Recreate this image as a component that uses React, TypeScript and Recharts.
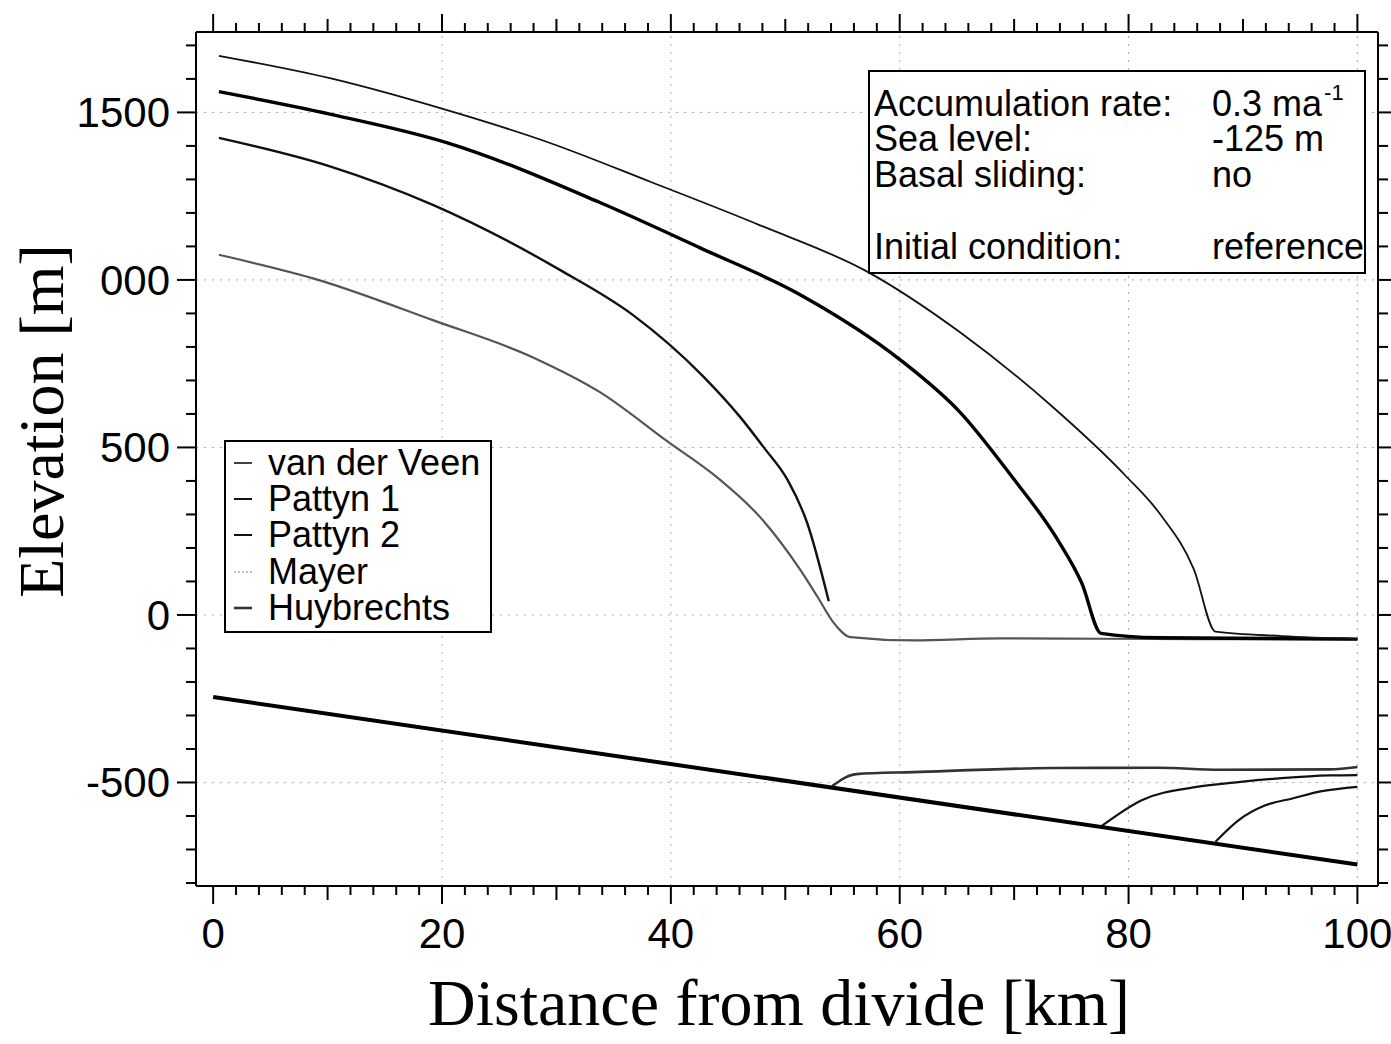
import { LineChart, Line, XAxis, YAxis, ReferenceLine } from 'recharts'

// ice surface profiles, km from divide / elevation (m)
const vanDerVeenKm = [0.5, 10.2, 19.7, 29.5, 38.2, 47.8, 57.2, 65.3, 73.3, 79.7, 82.8, 85.7, 87.6, 93.4, 100]
const vanDerVeenElev = [1669, 1602, 1514, 1408, 1293, 1163, 1024, 843, 623, 417, 299, 137, -50, -63, -72]

const huybrechtsKm = [0.5, 10.2, 20.4, 33.8, 42.6, 51.3, 60.1, 65.3, 69.8, 73.7, 75.9, 77.6, 82.6, 100]
const huybrechtsElev = [1562, 1495, 1410, 1231, 1095, 956, 760, 604, 413, 230, 96, -55, -68, -72]

const pattyn1Km = [0.5, 10.2, 19.2, 30.3, 36.7, 42.8, 46.1, 48.1, 50.2, 51.9, 53.8]
const pattyn1Elev = [1424, 1339, 1224, 1030, 895, 713, 589, 501, 403, 276, 41]

const mayerKm = [0.5, 9.1, 19.2, 28.0, 33.8, 39.7, 44.1, 47.8, 51.3, 52.8, 54.2, 55.7, 61.2, 68.8, 77.5, 86.3, 100]
const mayerElev = [1075, 1001, 880, 768, 665, 518, 409, 292, 135, 55, -22, -66, -76, -70, -71, -72, -72]

// ice shelf bottoms
const mayerBaseKm = [54.1, 56.2, 61.2, 73.3, 82.6, 87.9, 97.6, 100]
const mayerBaseElev = [-511, -475, -469, -457, -456, -462, -461, -454]
const huybrechtsBaseKm = [77.6, 81.2, 85.8, 89.8, 93.4, 97.6, 100]
const huybrechtsBaseElev = [-631, -552, -514, -498, -487, -479, -478]
const vanDerVeenBaseKm = [87.6, 89.6, 91.9, 94.4, 96.9, 100]
const vanDerVeenBaseElev = [-677, -613, -569, -547, -526, -513]

// bedrock
const bedKm = [0, 100]
const bedElev = [-245, -745]

const xTicks = [0, 2, 4, 6, 8, 10, 12, 14, 16, 18, 20, 22, 24, 26, 28, 30, 32, 34, 36, 38, 40, 42, 44, 46, 48, 50,
  52, 54, 56, 58, 60, 62, 64, 66, 68, 70, 72, 74, 76, 78, 80, 82, 84, 86, 88, 90, 92, 94, 96, 98, 100]
const yTicks = [-800, -700, -600, -500, -400, -300, -200, -100, 0, 100, 200, 300, 400, 500, 600, 700, 800, 900,
  1000, 1100, 1200, 1300, 1400, 1500, 1600, 1700]
// the "1" of 1000 is lost under the pasted-in axis title in the original scan
const yTickLabels: Record<number, string> = { 1500: '1500', 1000: '000', 500: '500', 0: '0', [-500]: '-500' }
const gridX = [20, 40, 60, 80, 100]
const gridY = [1500, 1000, 500, 0, -500]

const legendNames = ['van der Veen', 'Pattyn 1', 'Pattyn 2', 'Mayer', 'Huybrechts']
const infoLabels = ['Accumulation rate:', 'Sea level:', 'Basal sliding:', 'Initial condition:']
const infoValues = ['0.3 ma', '-125 m', 'no', 'reference']

const SANS = '"Liberation Sans", Arial, Helvetica, sans-serif'
const SERIF = '"Liberation Serif", "Times New Roman", serif'

const pts = (xs: number[], ys: number[]) => xs.map((x, i) => ({ x, y: ys[i] }))

function BottomTick({ x, y, payload }: any) {
  const v = payload.value
  const len = v % 20 === 0 ? 18 : v % 10 === 0 ? 14 : 9
  return (
    <g>
      <line x1={x} y1={y} x2={x} y2={y + len} stroke="#000" strokeWidth={2} />
      {v % 20 === 0 && (
        <text x={x} y={y + 62} textAnchor="middle" fontSize={42} fontFamily={SANS} fill="#000">{v}</text>
      )}
    </g>
  )
}

function TopTick({ x, y, payload }: any) {
  const v = payload.value
  const len = v % 20 === 0 ? 18 : v % 10 === 0 ? 13 : 9
  return <line x1={x} y1={y} x2={x} y2={y - len} stroke="#000" strokeWidth={2} />
}

function LeftTick({ x, y, payload }: any) {
  const v = payload.value
  const major = v % 500 === 0
  return (
    <g>
      <line x1={x} y1={y} x2={x - (major ? 19 : 10)} y2={y} stroke="#000" strokeWidth={2} />
      {yTickLabels[v] !== undefined && (
        <text x={x - 26} y={y} dy="0.35em" textAnchor="end" fontSize={42} fontFamily={SANS} fill="#000">
          {yTickLabels[v]}
        </text>
      )}
    </g>
  )
}

function RightTick({ x, y, payload }: any) {
  const major = payload.value % 500 === 0
  return <line x1={x} y1={y} x2={x + (major ? 14 : 10)} y2={y} stroke="#000" strokeWidth={2} />
}

const markerStyles = [
  { stroke: '#111', width: 1.6, dash: undefined },
  { stroke: '#111', width: 2, dash: undefined },
  { stroke: '#111', width: 2, dash: undefined },
  { stroke: '#aaa', width: 1.5, dash: '2 2' },
  { stroke: '#333', width: 2.6, dash: undefined },
]

function Legend() {
  return (
    <div style={{
      position: 'absolute', left: 224, top: 440, width: 268, height: 193, boxSizing: 'border-box',
      border: '2px solid #000', background: '#fff', fontFamily: SANS, fontSize: 36,
    }}>
      {legendNames.map((name, i) => (
        <div key={name} style={{ position: 'absolute', left: 0, top: 4 + i * 36.2, height: 34, lineHeight: '34px', whiteSpace: 'nowrap' }}>
          <svg width={30} height={34} style={{ position: 'absolute', left: 4, top: 0 }}>
            <line x1={4} x2={22} y1={17} y2={17} stroke={markerStyles[i].stroke}
              strokeWidth={markerStyles[i].width} strokeDasharray={markerStyles[i].dash} />
          </svg>
          <span style={{ position: 'absolute', left: 42 }}>{name}</span>
        </div>
      ))}
    </div>
  )
}

function InfoBox() {
  const rowTops = [15, 50, 86, 158]
  return (
    <div style={{
      position: 'absolute', left: 868, top: 70, width: 498, height: 204, boxSizing: 'border-box',
      border: '2px solid #000', background: '#fff', fontFamily: SANS, fontSize: 36,
    }}>
      {infoLabels.map((label, i) => (
        <div key={label} style={{ position: 'absolute', left: 4, top: rowTops[i], width: 490, height: 34, lineHeight: '34px', whiteSpace: 'nowrap' }}>
          <span style={{ position: 'absolute', left: 0 }}>{label}</span>
          <span style={{ position: 'absolute', left: 338 }}>
            {infoValues[i]}
            {i === 0 && <sup style={{ fontSize: 22, verticalAlign: 0, position: 'relative', top: -16, marginLeft: 2 }}>-1</sup>}
          </span>
        </div>
      ))}
    </div>
  )
}

export default function App() {
  return (
    <div style={{ position: 'absolute', left: 0, top: 0, width: 1391, height: 1044, overflow: 'hidden', background: '#fff' }}>
      <LineChart width={1391} height={1044} margin={{ top: 31, right: 12, bottom: 157, left: 195 }}>
        <XAxis dataKey="x" type="number" domain={[-1.5, 101.8]} allowDataOverflow ticks={xTicks} interval={0}
          height={1} tickSize={0} tickMargin={0} tickLine={false} axisLine={{ stroke: '#000', strokeWidth: 2 }}
          tick={(p: any) => <BottomTick {...p} />} />
        <XAxis xAxisId="top" orientation="top" dataKey="x" type="number" domain={[-1.5, 101.8]} allowDataOverflow
          ticks={xTicks} interval={0} height={1} tickSize={0} tickMargin={0} tickLine={false}
          axisLine={{ stroke: '#000', strokeWidth: 2 }} tick={(p: any) => <TopTick {...p} />} />
        <YAxis type="number" domain={[-809, 1740]} allowDataOverflow ticks={yTicks} interval={0}
          width={1} tickSize={0} tickMargin={0} tickLine={false} axisLine={{ stroke: '#000', strokeWidth: 2 }}
          tick={(p: any) => <LeftTick {...p} />} />
        <YAxis yAxisId="right" orientation="right" type="number" domain={[-809, 1740]} allowDataOverflow
          ticks={yTicks} interval={0} width={1} tickSize={0} tickMargin={0} tickLine={false}
          axisLine={{ stroke: '#000', strokeWidth: 2 }} tick={(p: any) => <RightTick {...p} />} />

        {gridX.map(v => <ReferenceLine key={'gx' + v} x={v} stroke="#aaa" strokeWidth={1} strokeDasharray="2 6" />)}
        {gridY.map(v => <ReferenceLine key={'gy' + v} y={v} stroke="#aaa" strokeWidth={1} strokeDasharray="2 6" />)}

        <Line data={pts(mayerKm, mayerElev)} dataKey="y" type="monotone" stroke="#555" strokeWidth={2.2} dot={false} isAnimationActive={false} />
        <Line data={pts(pattyn1Km, pattyn1Elev)} dataKey="y" type="monotone" stroke="#111" strokeWidth={2.4} dot={false} isAnimationActive={false} />
        <Line data={pts(huybrechtsKm, huybrechtsElev)} dataKey="y" type="monotone" stroke="#000" strokeWidth={3.4} dot={false} isAnimationActive={false} />
        <Line data={pts(vanDerVeenKm, vanDerVeenElev)} dataKey="y" type="monotone" stroke="#111" strokeWidth={1.8} dot={false} isAnimationActive={false} />
        <Line data={pts(mayerBaseKm, mayerBaseElev)} dataKey="y" type="monotone" stroke="#333" strokeWidth={2.6} dot={false} isAnimationActive={false} />
        <Line data={pts(huybrechtsBaseKm, huybrechtsBaseElev)} dataKey="y" type="monotone" stroke="#111" strokeWidth={2.2} dot={false} isAnimationActive={false} />
        <Line data={pts(vanDerVeenBaseKm, vanDerVeenBaseElev)} dataKey="y" type="monotone" stroke="#111" strokeWidth={2.2} dot={false} isAnimationActive={false} />
        <Line xAxisId="top" yAxisId="right" data={pts(bedKm, bedElev)} dataKey="y" type="linear" stroke="#000" strokeWidth={4} dot={false} isAnimationActive={false} />
      </LineChart>

      <InfoBox />
      <Legend />

      <div style={{
        position: 'absolute', left: 42, top: 421, transform: 'translate(-50%, -50%) rotate(-90deg)',
        fontFamily: SERIF, fontSize: 64, lineHeight: '64px', whiteSpace: 'nowrap',
      }}>Elevation [m]</div>
      <div style={{
        position: 'absolute', left: 0, width: 1558, top: 970, textAlign: 'center',
        fontFamily: SERIF, fontSize: 66, lineHeight: '66px', whiteSpace: 'nowrap',
      }}>Distance from divide [km]</div>
    </div>
  )
}
